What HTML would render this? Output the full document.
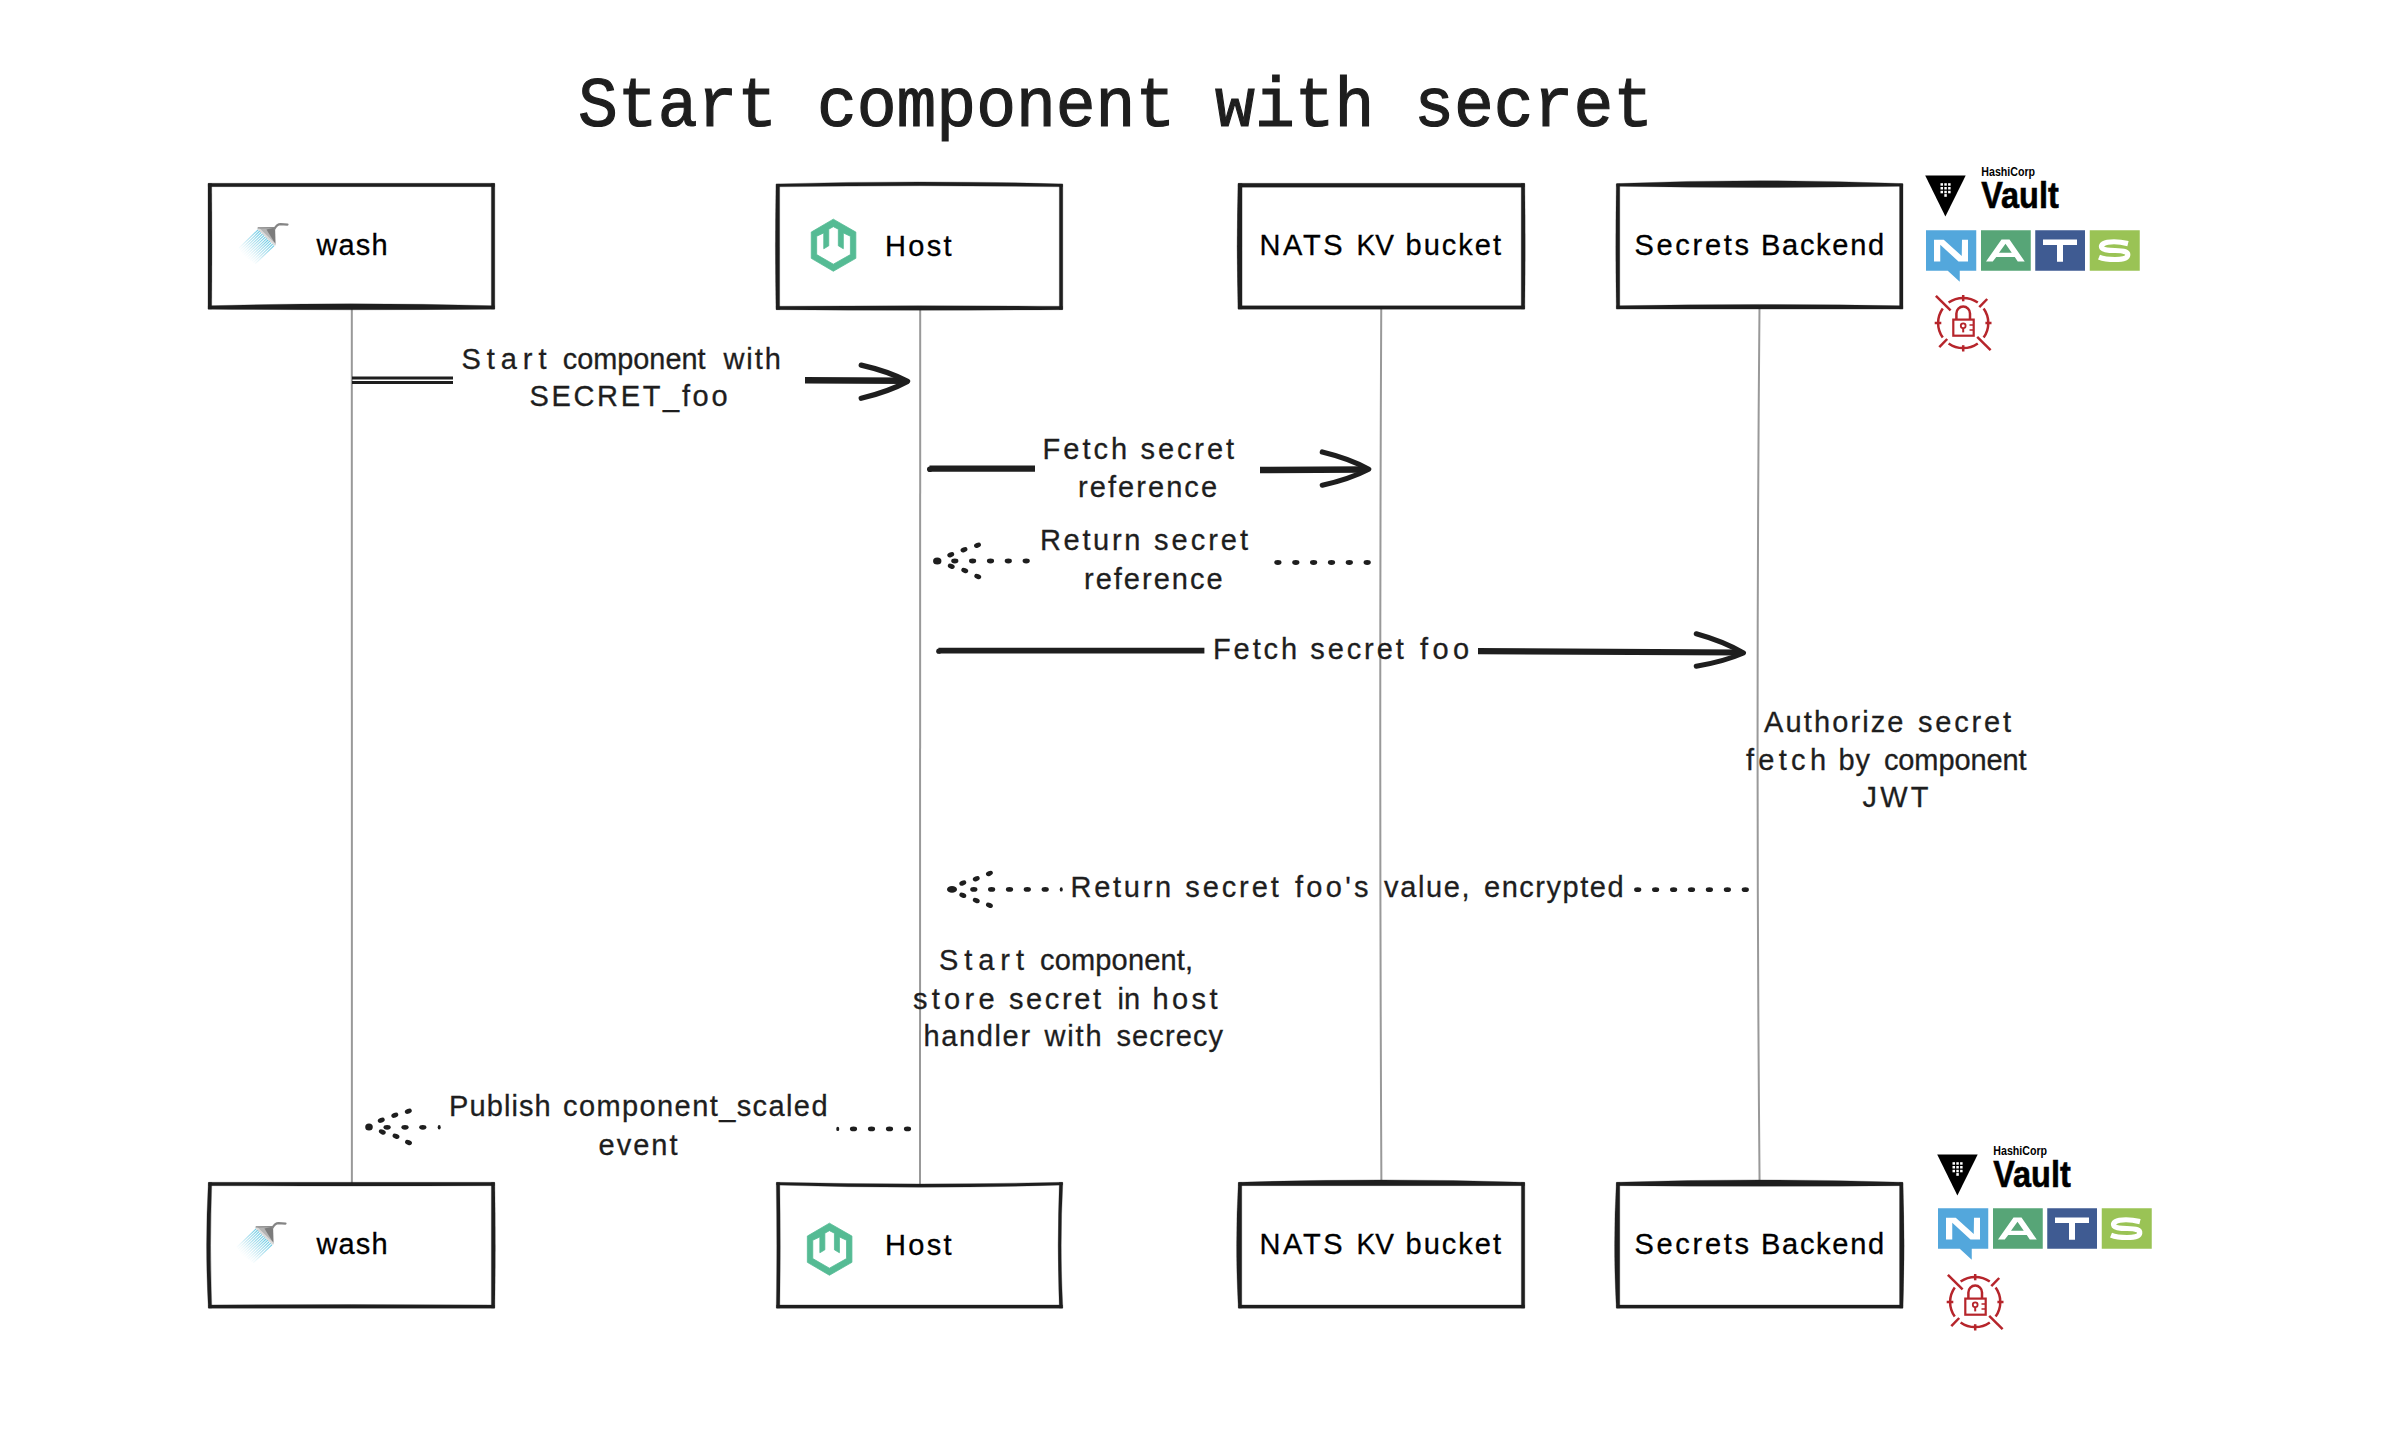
<!DOCTYPE html>
<html><head><meta charset="utf-8"><style>
html,body{margin:0;padding:0;background:#fff;}
svg{display:block;}
</style></head><body>
<svg width="2400" height="1438" viewBox="0 0 2400 1438">
<rect width="2400" height="1438" fill="#fff"/>
<path d="M351.8,306 Q351.8,745 351.9,1185" fill="none" stroke="#999" stroke-width="2"/>
<path d="M920.2,306 Q920.3,745 920.0,1185" fill="none" stroke="#999" stroke-width="2"/>
<path d="M1381.25,306 Q1379.2,745 1381.4,1185" fill="none" stroke="#999" stroke-width="2"/>
<path d="M1759.5,306 Q1755.6,745 1759.6,1185" fill="none" stroke="#999" stroke-width="2"/>
<rect x="211" y="186.3" width="280.8" height="120.0" fill="#fff"/>
<path d="M208.30,183.30 Q351.40,183.30 494.50,183.30 L494.50,186.65 Q351.40,186.65 208.30,186.65Z" fill="#1e1e1e" stroke="#1e1e1e" stroke-width="0.3" stroke-linejoin="round"/><path d="M208.30,309.30 Q351.40,310.30 494.50,309.30 L494.50,305.75 Q351.40,301.95 208.30,305.75Z" fill="#1e1e1e" stroke="#1e1e1e" stroke-width="0.3" stroke-linejoin="round"/><path d="M208.00,183.60 Q208.00,246.30 208.00,309.00 L211.65,309.00 Q212.25,246.30 211.65,183.60Z" fill="#1e1e1e" stroke="#1e1e1e" stroke-width="0.3" stroke-linejoin="round"/><path d="M494.80,183.60 Q494.80,246.30 494.80,309.00 L491.35,309.00 Q491.35,246.30 491.35,183.60Z" fill="#1e1e1e" stroke="#1e1e1e" stroke-width="0.3" stroke-linejoin="round"/>
<rect x="779" y="186.9" width="280.79999999999995" height="119.79999999999998" fill="#fff"/>
<path d="M776.30,183.90 Q919.40,179.90 1062.50,183.90 L1062.50,186.75 Q919.40,184.75 776.30,186.75Z" fill="#1e1e1e" stroke="#1e1e1e" stroke-width="0.3" stroke-linejoin="round"/><path d="M776.30,309.70 Q919.40,310.70 1062.50,309.70 L1062.50,306.25 Q919.40,305.05 776.30,306.25Z" fill="#1e1e1e" stroke="#1e1e1e" stroke-width="0.3" stroke-linejoin="round"/><path d="M776.00,184.20 Q774.80,246.80 776.00,309.40 L779.65,309.40 Q779.65,246.80 779.65,184.20Z" fill="#1e1e1e" stroke="#1e1e1e" stroke-width="0.3" stroke-linejoin="round"/><path d="M1062.80,184.20 Q1062.80,246.80 1062.80,309.40 L1059.35,309.40 Q1059.35,246.80 1059.35,184.20Z" fill="#1e1e1e" stroke="#1e1e1e" stroke-width="0.3" stroke-linejoin="round"/>
<rect x="1241" y="186.3" width="280.79999999999995" height="119.89999999999998" fill="#fff"/>
<path d="M1238.30,183.30 Q1381.40,183.30 1524.50,183.30 L1524.50,187.15 Q1381.40,187.15 1238.30,187.15Z" fill="#1e1e1e" stroke="#1e1e1e" stroke-width="0.3" stroke-linejoin="round"/><path d="M1238.30,309.20 Q1381.40,309.20 1524.50,309.20 L1524.50,305.75 Q1381.40,305.75 1238.30,305.75Z" fill="#1e1e1e" stroke="#1e1e1e" stroke-width="0.3" stroke-linejoin="round"/><path d="M1238.00,183.60 Q1236.20,246.25 1238.00,308.90 L1242.05,308.90 Q1242.05,246.25 1242.05,183.60Z" fill="#1e1e1e" stroke="#1e1e1e" stroke-width="0.3" stroke-linejoin="round"/><path d="M1524.80,183.60 Q1525.60,246.25 1524.80,308.90 L1521.25,308.90 Q1521.25,246.25 1521.25,183.60Z" fill="#1e1e1e" stroke="#1e1e1e" stroke-width="0.3" stroke-linejoin="round"/>
<rect x="1619.3" y="186.6" width="280.70000000000005" height="119.50000000000003" fill="#fff"/>
<path d="M1616.60,183.60 Q1759.65,177.80 1902.70,183.60 L1902.70,186.35 Q1759.65,188.75 1616.60,186.35Z" fill="#1e1e1e" stroke="#1e1e1e" stroke-width="0.3" stroke-linejoin="round"/><path d="M1616.60,309.10 Q1759.65,309.10 1902.70,309.10 L1902.70,305.65 Q1759.65,303.25 1616.60,305.65Z" fill="#1e1e1e" stroke="#1e1e1e" stroke-width="0.3" stroke-linejoin="round"/><path d="M1616.30,183.90 Q1615.30,246.35 1616.30,308.80 L1619.75,308.80 Q1619.75,246.35 1619.75,183.90Z" fill="#1e1e1e" stroke="#1e1e1e" stroke-width="0.3" stroke-linejoin="round"/><path d="M1903.00,183.90 Q1903.00,246.35 1903.00,308.80 L1899.55,308.80 Q1899.55,246.35 1899.55,183.90Z" fill="#1e1e1e" stroke="#1e1e1e" stroke-width="0.3" stroke-linejoin="round"/>
<rect x="211.3" y="1185.3" width="280.5" height="120.0" fill="#fff"/>
<path d="M208.60,1182.30 Q351.55,1182.30 494.50,1182.30 L494.50,1185.65 Q351.55,1186.45 208.60,1185.65Z" fill="#1e1e1e" stroke="#1e1e1e" stroke-width="0.3" stroke-linejoin="round"/><path d="M208.60,1308.30 Q351.55,1308.30 494.50,1308.30 L494.50,1304.95 Q351.55,1304.15 208.60,1304.95Z" fill="#1e1e1e" stroke="#1e1e1e" stroke-width="0.3" stroke-linejoin="round"/><path d="M208.30,1182.60 Q204.90,1245.30 208.30,1308.00 L211.75,1308.00 Q209.35,1245.30 211.75,1182.60Z" fill="#1e1e1e" stroke="#1e1e1e" stroke-width="0.3" stroke-linejoin="round"/><path d="M494.80,1182.60 Q495.80,1245.30 494.80,1308.00 L491.35,1308.00 Q491.35,1245.30 491.35,1182.60Z" fill="#1e1e1e" stroke="#1e1e1e" stroke-width="0.3" stroke-linejoin="round"/>
<rect x="779.3" y="1185.3" width="280.5" height="120.0" fill="#fff"/>
<path d="M776.60,1182.30 Q919.55,1185.50 1062.50,1182.30 L1062.50,1185.05 Q919.55,1189.45 776.60,1185.05Z" fill="#1e1e1e" stroke="#1e1e1e" stroke-width="0.3" stroke-linejoin="round"/><path d="M776.60,1308.30 Q919.55,1308.30 1062.50,1308.30 L1062.50,1304.95 Q919.55,1304.95 776.60,1304.95Z" fill="#1e1e1e" stroke="#1e1e1e" stroke-width="0.3" stroke-linejoin="round"/><path d="M776.30,1182.60 Q777.30,1245.30 776.30,1308.00 L779.75,1308.00 Q780.75,1245.30 779.75,1182.60Z" fill="#1e1e1e" stroke="#1e1e1e" stroke-width="0.3" stroke-linejoin="round"/><path d="M1062.80,1182.60 Q1059.60,1245.30 1062.80,1308.00 L1059.35,1308.00 Q1056.95,1245.30 1059.35,1182.60Z" fill="#1e1e1e" stroke="#1e1e1e" stroke-width="0.3" stroke-linejoin="round"/>
<rect x="1241.3" y="1185.3" width="280.5" height="120.0" fill="#fff"/>
<path d="M1238.60,1182.30 Q1381.55,1177.50 1524.50,1182.30 L1524.50,1185.65 Q1381.55,1185.65 1238.60,1185.65Z" fill="#1e1e1e" stroke="#1e1e1e" stroke-width="0.3" stroke-linejoin="round"/><path d="M1238.60,1308.30 Q1381.55,1308.30 1524.50,1308.30 L1524.50,1304.95 Q1381.55,1304.95 1238.60,1304.95Z" fill="#1e1e1e" stroke="#1e1e1e" stroke-width="0.3" stroke-linejoin="round"/><path d="M1238.30,1182.60 Q1234.90,1245.30 1238.30,1308.00 L1241.75,1308.00 Q1241.75,1245.30 1241.75,1182.60Z" fill="#1e1e1e" stroke="#1e1e1e" stroke-width="0.3" stroke-linejoin="round"/><path d="M1524.80,1182.60 Q1524.80,1245.30 1524.80,1308.00 L1521.35,1308.00 Q1521.35,1245.30 1521.35,1182.60Z" fill="#1e1e1e" stroke="#1e1e1e" stroke-width="0.3" stroke-linejoin="round"/>
<rect x="1619.3" y="1185.3" width="280.70000000000005" height="120.0" fill="#fff"/>
<path d="M1616.60,1182.30 Q1759.65,1177.50 1902.70,1182.30 L1902.70,1185.65 Q1759.65,1186.85 1616.60,1185.65Z" fill="#1e1e1e" stroke="#1e1e1e" stroke-width="0.3" stroke-linejoin="round"/><path d="M1616.60,1308.30 Q1759.65,1308.30 1902.70,1308.30 L1902.70,1304.95 Q1759.65,1304.95 1616.60,1304.95Z" fill="#1e1e1e" stroke="#1e1e1e" stroke-width="0.3" stroke-linejoin="round"/><path d="M1616.30,1182.60 Q1612.90,1245.30 1616.30,1308.00 L1619.75,1308.00 Q1619.75,1245.30 1619.75,1182.60Z" fill="#1e1e1e" stroke="#1e1e1e" stroke-width="0.3" stroke-linejoin="round"/><path d="M1903.00,1182.60 Q1905.20,1245.30 1903.00,1308.00 L1899.55,1308.00 Q1899.55,1245.30 1899.55,1182.60Z" fill="#1e1e1e" stroke="#1e1e1e" stroke-width="0.3" stroke-linejoin="round"/>
<text x="578.0" y="126.3" font-family="Liberation Mono" font-size="70" fill="#1e1e1e" stroke="#1e1e1e" stroke-width="1.2" textLength="1075.06" lengthAdjust="spacingAndGlyphs">Start component with secret</text>
<text x="316.5" y="254.6" font-family="Liberation Sans" font-size="29" fill="#000" stroke="#000" stroke-width="0.3" textLength="71.04" lengthAdjust="spacing">wash</text>
<text x="885.0" y="255.8" font-family="Liberation Sans" font-size="29" fill="#000" stroke="#000" stroke-width="0.3" textLength="66.55" lengthAdjust="spacing">Host</text>
<text x="1259.5" y="254.5" font-family="Liberation Sans" font-size="29" fill="#000" stroke="#000" stroke-width="0.3" textLength="83.12" lengthAdjust="spacing">NATS</text>
<text x="1356.5" y="254.5" font-family="Liberation Sans" font-size="29" fill="#000" stroke="#000" stroke-width="0.3" textLength="37.41" lengthAdjust="spacingAndGlyphs">KV</text>
<text x="1405.5" y="254.5" font-family="Liberation Sans" font-size="29" fill="#000" stroke="#000" stroke-width="0.3" textLength="95.54" lengthAdjust="spacing">bucket</text>
<text x="1634.5" y="255" font-family="Liberation Sans" font-size="29" fill="#000" stroke="#000" stroke-width="0.3" textLength="114.53" lengthAdjust="spacing">Secrets</text>
<text x="1761.0" y="255" font-family="Liberation Sans" font-size="29" fill="#000" stroke="#000" stroke-width="0.3" textLength="123.14" lengthAdjust="spacing">Backend</text>
<text x="316.5" y="1253.6" font-family="Liberation Sans" font-size="29" fill="#000" stroke="#000" stroke-width="0.3" textLength="71.04" lengthAdjust="spacing">wash</text>
<text x="885.0" y="1254.8" font-family="Liberation Sans" font-size="29" fill="#000" stroke="#000" stroke-width="0.3" textLength="66.55" lengthAdjust="spacing">Host</text>
<text x="1259.5" y="1253.5" font-family="Liberation Sans" font-size="29" fill="#000" stroke="#000" stroke-width="0.3" textLength="83.12" lengthAdjust="spacing">NATS</text>
<text x="1356.5" y="1253.5" font-family="Liberation Sans" font-size="29" fill="#000" stroke="#000" stroke-width="0.3" textLength="37.41" lengthAdjust="spacingAndGlyphs">KV</text>
<text x="1405.5" y="1253.5" font-family="Liberation Sans" font-size="29" fill="#000" stroke="#000" stroke-width="0.3" textLength="95.54" lengthAdjust="spacing">bucket</text>
<text x="1634.5" y="1254" font-family="Liberation Sans" font-size="29" fill="#000" stroke="#000" stroke-width="0.3" textLength="114.53" lengthAdjust="spacing">Secrets</text>
<text x="1761.0" y="1254" font-family="Liberation Sans" font-size="29" fill="#000" stroke="#000" stroke-width="0.3" textLength="123.14" lengthAdjust="spacing">Backend</text>
<text x="461.5" y="369" font-family="Liberation Sans" font-size="29" fill="#1e1e1e" stroke="#1e1e1e" stroke-width="0.3" textLength="85.01" lengthAdjust="spacing">Start</text>
<text x="562.75" y="369" font-family="Liberation Sans" font-size="29" fill="#1e1e1e" stroke="#1e1e1e" stroke-width="0.3" textLength="142.77" lengthAdjust="spacingAndGlyphs">component</text>
<text x="723.5" y="369" font-family="Liberation Sans" font-size="29" fill="#1e1e1e" stroke="#1e1e1e" stroke-width="0.3" textLength="57.28" lengthAdjust="spacing">with</text>
<text x="529.5" y="405.7" font-family="Liberation Sans" font-size="29" fill="#1e1e1e" stroke="#1e1e1e" stroke-width="0.3" textLength="198.04" lengthAdjust="spacing">SECRET_foo</text>
<text x="1042.5" y="459.4" font-family="Liberation Sans" font-size="29" fill="#1e1e1e" stroke="#1e1e1e" stroke-width="0.3" textLength="84.69" lengthAdjust="spacing">Fetch</text>
<text x="1140.5" y="459.4" font-family="Liberation Sans" font-size="29" fill="#1e1e1e" stroke="#1e1e1e" stroke-width="0.3" textLength="93.51" lengthAdjust="spacing">secret</text>
<text x="1078.0" y="497.4" font-family="Liberation Sans" font-size="29" fill="#1e1e1e" stroke="#1e1e1e" stroke-width="0.3" textLength="139.07" lengthAdjust="spacing">reference</text>
<text x="1040.0" y="550" font-family="Liberation Sans" font-size="29" fill="#1e1e1e" stroke="#1e1e1e" stroke-width="0.3" textLength="100.36" lengthAdjust="spacing">Return</text>
<text x="1154.0" y="550" font-family="Liberation Sans" font-size="29" fill="#1e1e1e" stroke="#1e1e1e" stroke-width="0.3" textLength="94.01" lengthAdjust="spacing">secret</text>
<text x="1084.0" y="588.8" font-family="Liberation Sans" font-size="29" fill="#1e1e1e" stroke="#1e1e1e" stroke-width="0.3" textLength="138.55" lengthAdjust="spacing">reference</text>
<text x="1213.0" y="658.75" font-family="Liberation Sans" font-size="29" fill="#1e1e1e" stroke="#1e1e1e" stroke-width="0.3" textLength="84.16" lengthAdjust="spacing">Fetch</text>
<text x="1310.25" y="658.75" font-family="Liberation Sans" font-size="29" fill="#1e1e1e" stroke="#1e1e1e" stroke-width="0.3" textLength="93.52" lengthAdjust="spacing">secret</text>
<text x="1420.0" y="658.75" font-family="Liberation Sans" font-size="29" fill="#1e1e1e" stroke="#1e1e1e" stroke-width="0.3" textLength="49.02" lengthAdjust="spacing">foo</text>
<text x="1764.0" y="731.8" font-family="Liberation Sans" font-size="29" fill="#1e1e1e" stroke="#1e1e1e" stroke-width="0.3" textLength="139.5" lengthAdjust="spacing">Authorize</text>
<text x="1918.0" y="731.8" font-family="Liberation Sans" font-size="29" fill="#1e1e1e" stroke="#1e1e1e" stroke-width="0.3" textLength="93.01" lengthAdjust="spacing">secret</text>
<text x="1746.0" y="770" font-family="Liberation Sans" font-size="29" fill="#1e1e1e" stroke="#1e1e1e" stroke-width="0.3" textLength="80.03" lengthAdjust="spacing">fetch</text>
<text x="1838.5" y="770" font-family="Liberation Sans" font-size="29" fill="#1e1e1e" stroke="#1e1e1e" stroke-width="0.3" textLength="31.62" lengthAdjust="spacing">by</text>
<text x="1884.0" y="770" font-family="Liberation Sans" font-size="29" fill="#1e1e1e" stroke="#1e1e1e" stroke-width="0.3" textLength="142.51" lengthAdjust="spacing">component</text>
<text x="1862.5" y="806.7" font-family="Liberation Sans" font-size="29" fill="#1e1e1e" stroke="#1e1e1e" stroke-width="0.3" textLength="66.01" lengthAdjust="spacing">JWT</text>
<text x="1070.5" y="896.9" font-family="Liberation Sans" font-size="29" fill="#1e1e1e" stroke="#1e1e1e" stroke-width="0.3" textLength="100.66" lengthAdjust="spacing">Return</text>
<text x="1185.25" y="896.9" font-family="Liberation Sans" font-size="29" fill="#1e1e1e" stroke="#1e1e1e" stroke-width="0.3" textLength="93.52" lengthAdjust="spacing">secret</text>
<text x="1295.0" y="896.9" font-family="Liberation Sans" font-size="29" fill="#1e1e1e" stroke="#1e1e1e" stroke-width="0.3" textLength="73.51" lengthAdjust="spacing">foo&#39;s</text>
<text x="1384.0" y="896.9" font-family="Liberation Sans" font-size="29" fill="#1e1e1e" stroke="#1e1e1e" stroke-width="0.3" textLength="85.61" lengthAdjust="spacing">value,</text>
<text x="1484.0" y="896.9" font-family="Liberation Sans" font-size="29" fill="#1e1e1e" stroke="#1e1e1e" stroke-width="0.3" textLength="139.56" lengthAdjust="spacing">encrypted</text>
<text x="939.0" y="970.4" font-family="Liberation Sans" font-size="29" fill="#1e1e1e" stroke="#1e1e1e" stroke-width="0.3" textLength="85.03" lengthAdjust="spacing">Start</text>
<text x="1040.0" y="970.4" font-family="Liberation Sans" font-size="29" fill="#1e1e1e" stroke="#1e1e1e" stroke-width="0.3" textLength="153.09" lengthAdjust="spacing">component,</text>
<text x="913.0" y="1008.7" font-family="Liberation Sans" font-size="29" fill="#1e1e1e" stroke="#1e1e1e" stroke-width="0.3" textLength="81.58" lengthAdjust="spacing">store</text>
<text x="1009.0" y="1008.7" font-family="Liberation Sans" font-size="29" fill="#1e1e1e" stroke="#1e1e1e" stroke-width="0.3" textLength="92.02" lengthAdjust="spacing">secret</text>
<text x="1117.5" y="1008.7" font-family="Liberation Sans" font-size="29" fill="#1e1e1e" stroke="#1e1e1e" stroke-width="0.3" textLength="22.52" lengthAdjust="spacing">in</text>
<text x="1152.5" y="1008.7" font-family="Liberation Sans" font-size="29" fill="#1e1e1e" stroke="#1e1e1e" stroke-width="0.3" textLength="65.08" lengthAdjust="spacing">host</text>
<text x="923.5" y="1046.2" font-family="Liberation Sans" font-size="29" fill="#1e1e1e" stroke="#1e1e1e" stroke-width="0.3" textLength="106.55" lengthAdjust="spacing">handler</text>
<text x="1044.5" y="1046.2" font-family="Liberation Sans" font-size="29" fill="#1e1e1e" stroke="#1e1e1e" stroke-width="0.3" textLength="57.02" lengthAdjust="spacing">with</text>
<text x="1116.5" y="1046.2" font-family="Liberation Sans" font-size="29" fill="#1e1e1e" stroke="#1e1e1e" stroke-width="0.3" textLength="106.51" lengthAdjust="spacing">secrecy</text>
<text x="449.0" y="1115.9" font-family="Liberation Sans" font-size="29" fill="#1e1e1e" stroke="#1e1e1e" stroke-width="0.3" textLength="101.71" lengthAdjust="spacing">Publish</text>
<text x="563.0" y="1115.9" font-family="Liberation Sans" font-size="29" fill="#1e1e1e" stroke="#1e1e1e" stroke-width="0.3" textLength="264.52" lengthAdjust="spacing">component_scaled</text>
<text x="598.5" y="1155.4" font-family="Liberation Sans" font-size="29" fill="#1e1e1e" stroke="#1e1e1e" stroke-width="0.3" textLength="79.01" lengthAdjust="spacing">event</text>
<path d="M352,378 L453,378 M352,382.6 L453,382.6" stroke="#1e1e1e" stroke-width="3"/>
<path d="M805,380.3 L905,380.8" stroke="#1e1e1e" stroke-width="6.5"/>
<path d="M861.2,365.1 Q888.4000000000001,371.25 907.6,381.4 Q888.4000000000001,391.85 861.2,398.3" fill="none" stroke="#1e1e1e" stroke-width="5.2" stroke-linecap="round" stroke-linejoin="round"/>
<path d="M929.5,468.6 L1035,468.6" stroke="#1e1e1e" stroke-width="6.2" stroke-linecap="butt"/><circle cx="929.8" cy="469.3" r="2.8" fill="#1e1e1e"/>
<path d="M1260,470 L1366,469.5" stroke="#1e1e1e" stroke-width="6.5"/>
<path d="M1322.3,452 Q1349.5,458.6 1368.7,469.2 Q1349.5,479.2 1322.3,485.2" fill="none" stroke="#1e1e1e" stroke-width="5.2" stroke-linecap="round" stroke-linejoin="round"/>
<path d="M938.5,650.6 L1204.4,650.6" stroke="#1e1e1e" stroke-width="5.6" stroke-linecap="butt"/><circle cx="938.8" cy="651.2" r="2.6" fill="#1e1e1e"/>
<path d="M1478,651.2 L1742,652.5" stroke="#1e1e1e" stroke-width="6.2"/>
<path d="M1696.25,633.75 Q1723.875,641.375 1743.5,653 Q1723.875,661.625 1696.25,666.25" fill="none" stroke="#1e1e1e" stroke-width="5.0" stroke-linecap="round" stroke-linejoin="round"/>
<ellipse cx="937.25" cy="561" rx="4.2" ry="3.6" fill="#1e1e1e" transform="rotate(0 937.25 561)"/>
<ellipse cx="954.8" cy="561" rx="3.6" ry="2.4" fill="#1e1e1e"/><ellipse cx="972.6" cy="561" rx="3.6" ry="2.4" fill="#1e1e1e"/><ellipse cx="990.5" cy="561" rx="3.6" ry="2.4" fill="#1e1e1e"/><ellipse cx="1008.3" cy="561" rx="3.6" ry="2.4" fill="#1e1e1e"/><ellipse cx="1026.2" cy="561" rx="3.6" ry="2.4" fill="#1e1e1e"/>
<ellipse cx="1277.9" cy="562.5" rx="3.6" ry="2.4" fill="#1e1e1e"/><ellipse cx="1295.8" cy="562.5" rx="3.6" ry="2.4" fill="#1e1e1e"/><ellipse cx="1313.6" cy="562.5" rx="3.6" ry="2.4" fill="#1e1e1e"/><ellipse cx="1331.5" cy="562.5" rx="3.6" ry="2.4" fill="#1e1e1e"/><ellipse cx="1349.3" cy="562.5" rx="3.6" ry="2.4" fill="#1e1e1e"/><ellipse cx="1367.2" cy="562.5" rx="3.6" ry="2.4" fill="#1e1e1e"/>
<ellipse cx="950.75" cy="554.75" rx="3.6" ry="2.4" fill="#1e1e1e" transform="rotate(-22 950.75 554.75)"/>
<ellipse cx="964" cy="549.75" rx="3.6" ry="2.4" fill="#1e1e1e" transform="rotate(-22 964 549.75)"/>
<ellipse cx="977.5" cy="545.25" rx="3.6" ry="2.4" fill="#1e1e1e" transform="rotate(-22 977.5 545.25)"/>
<ellipse cx="951.25" cy="566.25" rx="3.6" ry="2.4" fill="#1e1e1e" transform="rotate(22 951.25 566.25)"/>
<ellipse cx="964.75" cy="570.5" rx="3.6" ry="2.4" fill="#1e1e1e" transform="rotate(22 964.75 570.5)"/>
<ellipse cx="977.75" cy="576.5" rx="3.6" ry="2.4" fill="#1e1e1e" transform="rotate(22 977.75 576.5)"/>
<ellipse cx="952" cy="889.4" rx="5" ry="3.4" fill="#1e1e1e" transform="rotate(0 952 889.4)"/>
<ellipse cx="973.8" cy="889.4" rx="3.6" ry="2.4" fill="#1e1e1e"/><ellipse cx="991.6" cy="889.4" rx="3.6" ry="2.4" fill="#1e1e1e"/><ellipse cx="1009.5" cy="889.4" rx="3.6" ry="2.4" fill="#1e1e1e"/><ellipse cx="1027.3" cy="889.4" rx="3.6" ry="2.4" fill="#1e1e1e"/><ellipse cx="1045.2" cy="889.4" rx="3.6" ry="2.4" fill="#1e1e1e"/>
<ellipse cx="1061.25" cy="889.4" rx="1.5" ry="2.2" fill="#1e1e1e" transform="rotate(0 1061.25 889.4)"/>
<ellipse cx="1637.7" cy="889.7" rx="3.6" ry="2.4" fill="#1e1e1e"/><ellipse cx="1655.6" cy="889.7" rx="3.6" ry="2.4" fill="#1e1e1e"/><ellipse cx="1673.6" cy="889.7" rx="3.6" ry="2.4" fill="#1e1e1e"/><ellipse cx="1691.5" cy="889.7" rx="3.6" ry="2.4" fill="#1e1e1e"/><ellipse cx="1709.4" cy="889.7" rx="3.6" ry="2.4" fill="#1e1e1e"/><ellipse cx="1727.4" cy="889.7" rx="3.6" ry="2.4" fill="#1e1e1e"/><ellipse cx="1745.3" cy="889.7" rx="3.6" ry="2.4" fill="#1e1e1e"/>
<ellipse cx="962.8" cy="883.1" rx="3.6" ry="2.4" fill="#1e1e1e" transform="rotate(-22 962.8 883.1)"/>
<ellipse cx="976.25" cy="878.75" rx="3.6" ry="2.4" fill="#1e1e1e" transform="rotate(-22 976.25 878.75)"/>
<ellipse cx="989.4" cy="873.4" rx="3.6" ry="2.4" fill="#1e1e1e" transform="rotate(-22 989.4 873.4)"/>
<ellipse cx="962.8" cy="895.3" rx="3.6" ry="2.4" fill="#1e1e1e" transform="rotate(22 962.8 895.3)"/>
<ellipse cx="976.25" cy="900.6" rx="3.6" ry="2.4" fill="#1e1e1e" transform="rotate(22 976.25 900.6)"/>
<ellipse cx="989.4" cy="905.3" rx="3.6" ry="2.4" fill="#1e1e1e" transform="rotate(22 989.4 905.3)"/>
<ellipse cx="369" cy="1127" rx="3.8" ry="3.6" fill="#1e1e1e" transform="rotate(0 369 1127)"/>
<ellipse cx="387.1" cy="1127.3" rx="3.6" ry="2.4" fill="#1e1e1e"/><ellipse cx="405.0" cy="1127.3" rx="3.6" ry="2.4" fill="#1e1e1e"/><ellipse cx="422.8" cy="1127.3" rx="3.6" ry="2.4" fill="#1e1e1e"/>
<ellipse cx="439.2" cy="1127.3" rx="1.5" ry="2.2" fill="#1e1e1e" transform="rotate(0 439.2 1127.3)"/>
<ellipse cx="837.75" cy="1128.9" rx="1.5" ry="2.2" fill="#1e1e1e" transform="rotate(0 837.75 1128.9)"/>
<ellipse cx="853.5" cy="1128.9" rx="3.6" ry="2.4" fill="#1e1e1e"/><ellipse cx="871.5" cy="1128.9" rx="3.6" ry="2.4" fill="#1e1e1e"/><ellipse cx="889.5" cy="1128.9" rx="3.6" ry="2.4" fill="#1e1e1e"/><ellipse cx="907.5" cy="1128.9" rx="3.6" ry="2.4" fill="#1e1e1e"/>
<ellipse cx="381.25" cy="1120.2" rx="3.6" ry="2.4" fill="#1e1e1e" transform="rotate(-20 381.25 1120.2)"/>
<ellipse cx="394.8" cy="1115.2" rx="3.6" ry="2.4" fill="#1e1e1e" transform="rotate(-20 394.8 1115.2)"/>
<ellipse cx="408.3" cy="1111.25" rx="3.6" ry="2.4" fill="#1e1e1e" transform="rotate(-20 408.3 1111.25)"/>
<ellipse cx="382.3" cy="1131.9" rx="3.6" ry="2.4" fill="#1e1e1e" transform="rotate(22 382.3 1131.9)"/>
<ellipse cx="396" cy="1136.25" rx="3.6" ry="2.4" fill="#1e1e1e" transform="rotate(22 396 1136.25)"/>
<ellipse cx="408.5" cy="1142.5" rx="3.6" ry="2.4" fill="#1e1e1e" transform="rotate(22 408.5 1142.5)"/>
<defs><linearGradient id="wg0" gradientUnits="userSpaceOnUse" x1="266.42" y1="236.41" x2="244.62" y2="257.83"><stop offset="0" stop-color="#5cc6e2" stop-opacity="1"/><stop offset="0.55" stop-color="#8fd3e6" stop-opacity="0.55"/><stop offset="1" stop-color="#cfeef5" stop-opacity="0"/></linearGradient></defs><line x1="258.39" y1="229.53" x2="238.78" y2="248.32" stroke="url(#wg0)" stroke-width="1.1"/><line x1="259.81" y1="230.99" x2="239.91" y2="250.07" stroke="url(#wg0)" stroke-width="1.1"/><line x1="261.24" y1="232.45" x2="241.03" y2="251.81" stroke="url(#wg0)" stroke-width="1.1"/><line x1="262.66" y1="233.91" x2="242.16" y2="253.56" stroke="url(#wg0)" stroke-width="1.1"/><line x1="264.09" y1="235.37" x2="243.28" y2="255.31" stroke="url(#wg0)" stroke-width="1.1"/><line x1="265.51" y1="236.83" x2="244.77" y2="256.71" stroke="url(#wg0)" stroke-width="1.1"/><line x1="266.94" y1="238.29" x2="246.49" y2="257.89" stroke="url(#wg0)" stroke-width="1.1"/><line x1="268.36" y1="239.75" x2="248.22" y2="259.06" stroke="url(#wg0)" stroke-width="1.1"/><line x1="269.79" y1="241.21" x2="249.94" y2="260.23" stroke="url(#wg0)" stroke-width="1.1"/><line x1="271.21" y1="242.67" x2="251.67" y2="261.40" stroke="url(#wg0)" stroke-width="1.1"/><line x1="272.64" y1="244.13" x2="253.40" y2="262.57" stroke="url(#wg0)" stroke-width="1.1"/><line x1="274.07" y1="245.59" x2="255.12" y2="263.75" stroke="url(#wg0)" stroke-width="1.1"/><path d="M257.24,227.81 L275.02,227.43 L275.59,245.02 Z" fill="#b4b4b4"/><path d="M266.42,229.53 L275.02,227.62 L275.40,244.06 Z" fill="#6e6e6e" opacity="0.8"/><path d="M258.00,228.19 L274.83,244.45" stroke="#d9d9d9" stroke-width="2.2" stroke-linecap="round"/><path d="M258.00,227.81 L274.45,227.62" stroke="#8a8a8a" stroke-width="1.2"/><path d="M274.45,228.77 Q277.12,224.18 280.57,224.18 L287.45,224.56" fill="none" stroke="#858585" stroke-width="2.3" stroke-linecap="round"/>
<defs><linearGradient id="wg999" gradientUnits="userSpaceOnUse" x1="264.42" y1="1235.41" x2="242.62" y2="1256.83"><stop offset="0" stop-color="#5cc6e2" stop-opacity="1"/><stop offset="0.55" stop-color="#8fd3e6" stop-opacity="0.55"/><stop offset="1" stop-color="#cfeef5" stop-opacity="0"/></linearGradient></defs><line x1="256.39" y1="1228.53" x2="236.78" y2="1247.32" stroke="url(#wg999)" stroke-width="1.1"/><line x1="257.81" y1="1229.99" x2="237.91" y2="1249.07" stroke="url(#wg999)" stroke-width="1.1"/><line x1="259.24" y1="1231.45" x2="239.03" y2="1250.81" stroke="url(#wg999)" stroke-width="1.1"/><line x1="260.66" y1="1232.91" x2="240.16" y2="1252.56" stroke="url(#wg999)" stroke-width="1.1"/><line x1="262.09" y1="1234.37" x2="241.28" y2="1254.31" stroke="url(#wg999)" stroke-width="1.1"/><line x1="263.51" y1="1235.83" x2="242.77" y2="1255.71" stroke="url(#wg999)" stroke-width="1.1"/><line x1="264.94" y1="1237.29" x2="244.49" y2="1256.89" stroke="url(#wg999)" stroke-width="1.1"/><line x1="266.36" y1="1238.75" x2="246.22" y2="1258.06" stroke="url(#wg999)" stroke-width="1.1"/><line x1="267.79" y1="1240.21" x2="247.94" y2="1259.23" stroke="url(#wg999)" stroke-width="1.1"/><line x1="269.21" y1="1241.67" x2="249.67" y2="1260.40" stroke="url(#wg999)" stroke-width="1.1"/><line x1="270.64" y1="1243.13" x2="251.40" y2="1261.57" stroke="url(#wg999)" stroke-width="1.1"/><line x1="272.07" y1="1244.59" x2="253.12" y2="1262.75" stroke="url(#wg999)" stroke-width="1.1"/><path d="M255.24,1226.81 L273.02,1226.43 L273.59,1244.02 Z" fill="#b4b4b4"/><path d="M264.42,1228.53 L273.02,1226.62 L273.40,1243.06 Z" fill="#6e6e6e" opacity="0.8"/><path d="M256.00,1227.19 L272.83,1243.45" stroke="#d9d9d9" stroke-width="2.2" stroke-linecap="round"/><path d="M256.00,1226.81 L272.45,1226.62" stroke="#8a8a8a" stroke-width="1.2"/><path d="M272.45,1227.77 Q275.12,1223.18 278.57,1223.18 L285.45,1223.56" fill="none" stroke="#858585" stroke-width="2.3" stroke-linecap="round"/>
<path d="M833.33,219.17 L855.83,232.08 L855.83,258.33 L833.33,271.25 L811.25,258.33 L811.25,232.08Z M816.67,236.25 L823.75,232.92 L823.75,248.75 L828.75,245.83 L828.75,229.17 L833.33,226.67 L838.33,229.17 L838.33,245.83 L843.33,248.75 L843.33,232.92 L850.42,236.25 L850.42,254.58 L833.33,264.17 L816.67,254.58Z" fill="#55bb94" fill-rule="evenodd" stroke="#55bb94" stroke-width="0.8" stroke-linejoin="round"/>
<path d="M829.43,1223.17 L851.93,1236.08 L851.93,1262.33 L829.43,1275.25 L807.35,1262.33 L807.35,1236.08Z M812.77,1240.25 L819.85,1236.92 L819.85,1252.75 L824.85,1249.83 L824.85,1233.17 L829.43,1230.67 L834.43,1233.17 L834.43,1249.83 L839.43,1252.75 L839.43,1236.92 L846.52,1240.25 L846.52,1258.58 L829.43,1268.17 L812.77,1258.58Z" fill="#55bb94" fill-rule="evenodd" stroke="#55bb94" stroke-width="0.8" stroke-linejoin="round"/>
<path d="M1925.2,175.5 L1965.7,175.5 L1945.4,216.5Z" fill="#000"/><rect x="1940.5" y="183.2" width="2.5" height="2.5" fill="#fff"/><rect x="1944.3" y="183.2" width="2.5" height="2.5" fill="#fff"/><rect x="1948.1" y="183.2" width="2.5" height="2.5" fill="#fff"/><rect x="1940.5" y="187.0" width="2.5" height="2.5" fill="#fff"/><rect x="1944.3" y="187.0" width="2.5" height="2.5" fill="#fff"/><rect x="1948.1" y="187.0" width="2.5" height="2.5" fill="#fff"/><rect x="1940.5" y="190.8" width="2.5" height="2.5" fill="#fff"/><rect x="1944.3" y="190.8" width="2.5" height="2.5" fill="#fff"/><rect x="1948.1" y="190.8" width="2.5" height="2.5" fill="#fff"/><rect x="1944.3" y="194.1" width="2.5" height="2.7" fill="#fff"/><text x="1981.3" y="175.7" font-family="Liberation Sans" font-weight="bold" font-size="12.3" textLength="53.8" lengthAdjust="spacingAndGlyphs" fill="#000">HashiCorp</text><text x="1981.2" y="207.8" font-family="Liberation Sans" font-weight="bold" font-size="37" textLength="77.5" lengthAdjust="spacingAndGlyphs" fill="#000" stroke="#000" stroke-width="0.6">Vault</text>
<path d="M1937.2,1154.5 L1977.7,1154.5 L1957.4,1195.5Z" fill="#000"/><rect x="1952.5" y="1162.2" width="2.5" height="2.5" fill="#fff"/><rect x="1956.3" y="1162.2" width="2.5" height="2.5" fill="#fff"/><rect x="1960.1" y="1162.2" width="2.5" height="2.5" fill="#fff"/><rect x="1952.5" y="1166.0" width="2.5" height="2.5" fill="#fff"/><rect x="1956.3" y="1166.0" width="2.5" height="2.5" fill="#fff"/><rect x="1960.1" y="1166.0" width="2.5" height="2.5" fill="#fff"/><rect x="1952.5" y="1169.8" width="2.5" height="2.5" fill="#fff"/><rect x="1956.3" y="1169.8" width="2.5" height="2.5" fill="#fff"/><rect x="1960.1" y="1169.8" width="2.5" height="2.5" fill="#fff"/><rect x="1956.3" y="1173.1" width="2.5" height="2.7" fill="#fff"/><text x="1993.3" y="1154.7" font-family="Liberation Sans" font-weight="bold" font-size="12.3" textLength="53.8" lengthAdjust="spacingAndGlyphs" fill="#000">HashiCorp</text><text x="1993.2" y="1186.8" font-family="Liberation Sans" font-weight="bold" font-size="37" textLength="77.5" lengthAdjust="spacingAndGlyphs" fill="#000" stroke="#000" stroke-width="0.6">Vault</text>
<path d="M1926,230.25 H1976.25 V270.75 H1959.75 V281.75 L1947.75,270.75 H1926Z" fill="#53a7dc"/><rect x="1981" y="230.25" width="49.75" height="40.5" fill="#57a577"/><rect x="2035.25" y="230.25" width="49.75" height="40.5" fill="#3f5b92"/><rect x="2089.75" y="230.25" width="50" height="40.5" fill="#9ac355"/><path d="M1934.00,261.50 L1934.00,239.75 L1943.75,239.75 L1961.75,256.00 L1962.00,239.75 L1968.00,239.75 L1968.00,261.50 L1958.50,261.50 L1940.25,244.75 L1940.25,261.50Z" fill="#fff"/><path d="M1986.00,261.50 L2001.50,239.50 L2009.50,239.50 L2024.75,261.50 L2017.75,261.50 L2014.75,257.00 L1996.25,257.00 L1992.75,261.50Z M1999.00,252.75 L2005.50,243.75 L2011.75,252.75Z" fill="#fff" fill-rule="evenodd"/><path d="M2043.00,239.50 L2077.00,239.50 L2077.00,245.00 L2063.00,245.00 L2063.00,261.75 L2057.00,261.75 L2057.00,245.00 L2043.00,245.00Z" fill="#fff"/><path d="M2128.00,243.60 C2122.50,242.25 2117.50,241.75 2114.00,241.75 C2103.50,241.75 2100.00,245.00 2102.00,248.00 C2103.50,250.25 2110.00,250.50 2115.00,250.50 C2125.00,250.60 2128.00,252.25 2127.75,255.00 C2127.50,258.50 2122.50,259.50 2115.00,259.50 C2107.50,259.50 2102.50,258.50 2099.00,257.10" fill="none" stroke="#fff" stroke-width="5.2"/>
<path d="M1938,1208.25 H1988.25 V1248.75 H1971.75 V1259.75 L1959.75,1248.75 H1938Z" fill="#53a7dc"/><rect x="1993" y="1208.25" width="49.75" height="40.5" fill="#57a577"/><rect x="2047.25" y="1208.25" width="49.75" height="40.5" fill="#3f5b92"/><rect x="2101.75" y="1208.25" width="50" height="40.5" fill="#9ac355"/><path d="M1946.00,1239.50 L1946.00,1217.75 L1955.75,1217.75 L1973.75,1234.00 L1974.00,1217.75 L1980.00,1217.75 L1980.00,1239.50 L1970.50,1239.50 L1952.25,1222.75 L1952.25,1239.50Z" fill="#fff"/><path d="M1998.00,1239.50 L2013.50,1217.50 L2021.50,1217.50 L2036.75,1239.50 L2029.75,1239.50 L2026.75,1235.00 L2008.25,1235.00 L2004.75,1239.50Z M2011.00,1230.75 L2017.50,1221.75 L2023.75,1230.75Z" fill="#fff" fill-rule="evenodd"/><path d="M2055.00,1217.50 L2089.00,1217.50 L2089.00,1223.00 L2075.00,1223.00 L2075.00,1239.75 L2069.00,1239.75 L2069.00,1223.00 L2055.00,1223.00Z" fill="#fff"/><path d="M2140.00,1221.60 C2134.50,1220.25 2129.50,1219.75 2126.00,1219.75 C2115.50,1219.75 2112.00,1223.00 2114.00,1226.00 C2115.50,1228.25 2122.00,1228.50 2127.00,1228.50 C2137.00,1228.60 2140.00,1230.25 2139.75,1233.00 C2139.50,1236.50 2134.50,1237.50 2127.00,1237.50 C2119.50,1237.50 2114.50,1236.50 2111.00,1235.10" fill="none" stroke="#fff" stroke-width="5.2"/>
<path d="M1977.78,302.57 A25.1,25.1 0 0 0 1948.62,302.57 M1942.77,308.42 A25.1,25.1 0 0 0 1942.77,337.58 M1948.62,343.43 A25.1,25.1 0 0 0 1977.78,343.43 M1983.63,337.58 A25.1,25.1 0 0 0 1983.63,308.42" fill="none" stroke="#b6252b" stroke-width="2.5"/><line x1="1963.2" y1="295" x2="1963.2" y2="301.3" stroke="#b6252b" stroke-width="2.5"/><line x1="1934.7" y1="323" x2="1941.3" y2="323" stroke="#b6252b" stroke-width="2.5"/><line x1="1985.4" y1="323" x2="1991.5" y2="323" stroke="#b6252b" stroke-width="2.5"/><line x1="1963.2" y1="345.2" x2="1963.2" y2="351.5" stroke="#b6252b" stroke-width="2.5"/><line x1="1935.9" y1="295.9" x2="1950.6" y2="310.3" stroke="#b6252b" stroke-width="2.5"/><line x1="1987.2" y1="299" x2="1979.3" y2="307.2" stroke="#b6252b" stroke-width="2.5"/><line x1="1947.2" y1="339" x2="1939.3" y2="347.2" stroke="#b6252b" stroke-width="2.5"/><line x1="1977.2" y1="336.8" x2="1990.6" y2="350.1" stroke="#b6252b" stroke-width="2.5"/><rect x="1953.3" y="319.6" width="20.4" height="16.1" fill="none" stroke="#b6252b" stroke-width="2.2"/><path d="M1956.4,319.5 V313.4 A6.8,6.8 0 0 1 1970,313.4 V319.5" fill="none" stroke="#b6252b" stroke-width="2.5"/><circle cx="1963.2" cy="325.7" r="2.4" fill="none" stroke="#b6252b" stroke-width="1.8"/><line x1="1963.2" y1="328" x2="1963.2" y2="332.4" stroke="#b6252b" stroke-width="2"/><path d="M1969.5,325 H1973 M1969.5,330 H1973" stroke="#b6252b" stroke-width="1.6"/>
<path d="M1989.78,1281.57 A25.1,25.1 0 0 0 1960.62,1281.57 M1954.77,1287.42 A25.1,25.1 0 0 0 1954.77,1316.58 M1960.62,1322.43 A25.1,25.1 0 0 0 1989.78,1322.43 M1995.63,1316.58 A25.1,25.1 0 0 0 1995.63,1287.42" fill="none" stroke="#b6252b" stroke-width="2.5"/><line x1="1975.2" y1="1274" x2="1975.2" y2="1280.3" stroke="#b6252b" stroke-width="2.5"/><line x1="1946.7" y1="1302" x2="1953.3" y2="1302" stroke="#b6252b" stroke-width="2.5"/><line x1="1997.4" y1="1302" x2="2003.5" y2="1302" stroke="#b6252b" stroke-width="2.5"/><line x1="1975.2" y1="1324.2" x2="1975.2" y2="1330.5" stroke="#b6252b" stroke-width="2.5"/><line x1="1947.9" y1="1274.9" x2="1962.6" y2="1289.3" stroke="#b6252b" stroke-width="2.5"/><line x1="1999.2" y1="1278" x2="1991.3" y2="1286.2" stroke="#b6252b" stroke-width="2.5"/><line x1="1959.2" y1="1318" x2="1951.3" y2="1326.2" stroke="#b6252b" stroke-width="2.5"/><line x1="1989.2" y1="1315.8" x2="2002.6" y2="1329.1" stroke="#b6252b" stroke-width="2.5"/><rect x="1965.3" y="1298.6" width="20.4" height="16.1" fill="none" stroke="#b6252b" stroke-width="2.2"/><path d="M1968.4,1298.5 V1292.4 A6.8,6.8 0 0 1 1982,1292.4 V1298.5" fill="none" stroke="#b6252b" stroke-width="2.5"/><circle cx="1975.2" cy="1304.7" r="2.4" fill="none" stroke="#b6252b" stroke-width="1.8"/><line x1="1975.2" y1="1307" x2="1975.2" y2="1311.4" stroke="#b6252b" stroke-width="2"/><path d="M1981.5,1304 H1985 M1981.5,1309 H1985" stroke="#b6252b" stroke-width="1.6"/>
</svg>
</body></html>
